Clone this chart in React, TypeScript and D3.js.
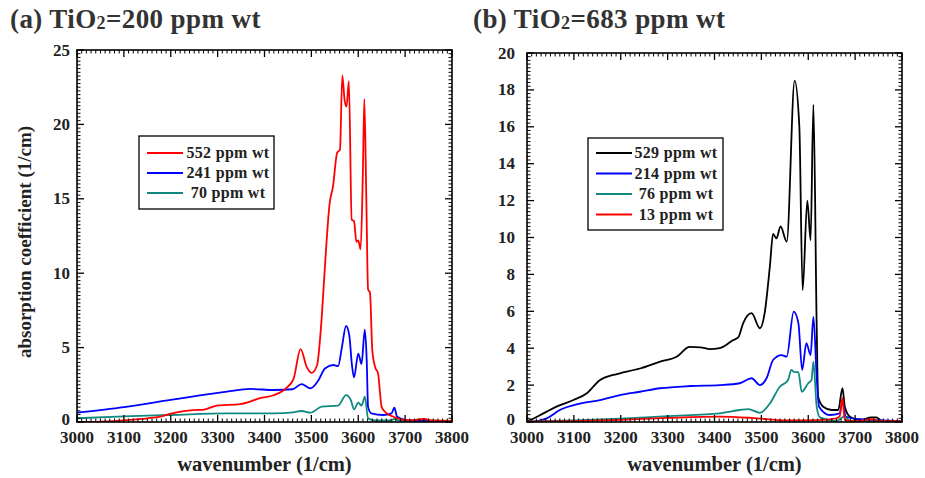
import React from "react";
import * as d3 from "d3";

// ---------- data ----------
const xTicks = [3000, 3100, 3200, 3300, 3400, 3500, 3600, 3700, 3800];
const yTicksA = [0, 5, 10, 15, 20, 25];
const yTicksB = [0, 2, 4, 6, 8, 10, 12, 14, 16, 18, 20];

const titleA = { pre: "(a) TiO", sub: "2", post: "=200 ppm wt" };
const titleB = { pre: "(b) TiO", sub: "2", post: "=683 ppm wt" };

const labelsA = ["552 ppm wt", "241 ppm wt", "70 ppm wt"];
const labelsB = ["529 ppm wt", "214 ppm wt", "76 ppm wt", "13 ppm wt"];

// panel (a)
const a552: [number, number][] = [
  [3000, 0.0], [3050, 0.03], [3106, 0.13], [3150, 0.25], [3177, 0.36], [3198, 0.54], [3225, 0.72],
  [3248, 0.8], [3269, 0.82], [3298, 1.1], [3348, 1.2], [3369, 1.37], [3390, 1.6], [3419, 1.8],
  [3447, 2.3], [3462, 2.9], [3477, 4.9], [3490, 3.7], [3500, 3.3], [3512, 3.8], [3522, 7.0],
  [3529, 10.5], [3539, 14.7], [3546, 15.8], [3555, 18.1], [3561, 18.3], [3566, 23.3], [3571, 21.6],
  [3575, 21.2], [3580, 22.9], [3586, 13.6], [3591, 13.5], [3596, 12.1], [3600, 12.2], [3605, 11.6],
  [3610, 17.0], [3613, 21.7], [3617, 15.4], [3621, 8.9], [3625, 8.7], [3630, 4.8], [3637, 3.6],
  [3642, 3.3], [3650, 1.0], [3660, 0.6], [3675, 0.35], [3690, 0.2], [3710, 0.12], [3740, 0.2],
  [3760, 0.1], [3800, 0.08],
];
const a241: [number, number][] = [
  [3000, 0.63], [3100, 1.0], [3200, 1.48], [3320, 2.04], [3370, 2.22], [3420, 2.15], [3460, 2.2],
  [3479, 2.55], [3498, 2.26], [3515, 2.8], [3529, 3.6], [3547, 3.83], [3557, 3.76], [3565, 5.0],
  [3574, 6.45], [3581, 5.8], [3586, 4.0], [3591, 3.0], [3600, 4.6], [3607, 3.9], [3614, 6.2],
  [3618, 4.2], [3621, 1.0], [3628, 0.58], [3653, 0.47], [3671, 0.58], [3677, 0.96], [3683, 0.35],
  [3703, 0.13], [3750, 0.06], [3800, 0.05],
];
const a70: [number, number][] = [
  [3000, 0.25], [3100, 0.38], [3200, 0.47], [3320, 0.58], [3420, 0.58], [3461, 0.65], [3479, 0.74],
  [3498, 0.63], [3522, 1.03], [3557, 1.1], [3574, 1.81], [3584, 1.48], [3591, 0.85], [3600, 1.3],
  [3607, 1.1], [3614, 1.7], [3621, 0.25], [3635, 0.1], [3670, 0.1], [3677, 0.2], [3690, 0.08],
  [3800, 0.05],
];

// panel (b)
const b529: [number, number][] = [
  [3000, 0.05], [3006, 0.1], [3035, 0.47], [3063, 0.83], [3099, 1.19], [3127, 1.55], [3156, 2.28],
  [3184, 2.55], [3198, 2.64], [3241, 2.9], [3284, 3.27], [3320, 3.55], [3347, 4.07], [3370, 4.05],
  [3390, 3.95], [3411, 4.0], [3440, 4.44], [3451, 4.6], [3461, 5.35], [3479, 5.9], [3497, 5.08],
  [3507, 5.9], [3518, 8.4], [3525, 10.2], [3532, 9.95], [3541, 10.6], [3554, 9.77], [3571, 18.5],
  [3581, 16.0], [3588, 7.15], [3598, 12.0], [3605, 9.86], [3611, 17.2], [3618, 5.17], [3621, 1.37],
  [3632, 0.83], [3650, 0.65], [3664, 0.65], [3673, 1.83], [3678, 0.83], [3689, 0.29], [3710, 0.1],
  [3735, 0.25], [3745, 0.25], [3759, 0.02], [3800, 0.05],
];
const b214: [number, number][] = [
  [3000, 0.0], [3020, 0.05], [3042, 0.2], [3070, 0.65], [3113, 1.0], [3156, 1.19], [3198, 1.46],
  [3241, 1.64], [3284, 1.83], [3350, 1.95], [3411, 2.0], [3454, 2.1], [3479, 2.37], [3497, 2.0],
  [3511, 2.37], [3525, 3.36], [3543, 3.63], [3554, 3.54], [3569, 5.98], [3579, 5.35], [3587, 2.82],
  [3596, 4.27], [3605, 3.63], [3611, 5.7], [3618, 2.46], [3623, 0.83], [3646, 0.38], [3667, 0.47],
  [3673, 1.1], [3680, 0.3], [3710, 0.15], [3800, 0.05],
];
const b76: [number, number][] = [
  [3000, 0.02], [3100, 0.08], [3200, 0.18], [3300, 0.32], [3411, 0.47], [3454, 0.65], [3472, 0.7],
  [3497, 0.5], [3518, 1.0], [3539, 1.9], [3557, 2.28], [3564, 2.82], [3571, 2.7], [3579, 2.7],
  [3586, 1.64], [3600, 2.1], [3607, 2.28], [3611, 3.27], [3618, 0.83], [3625, 0.25], [3660, 0.05],
  [3677, 0.3], [3690, 0.05], [3800, 0.03],
];
const b13: [number, number][] = [
  [3000, 0.02], [3100, 0.05], [3200, 0.12], [3300, 0.22], [3411, 0.29], [3480, 0.22], [3554, 0.08],
  [3620, 0.1], [3660, 0.2], [3667, 0.3], [3673, 1.3], [3678, 0.1], [3700, 0.05], [3740, 0.15],
  [3750, 0.05], [3800, 0.05],
];

const RED = "#ff0000";
const BLUE = "#0000ff";
const TEAL = "#108a80";
const BLACK = "#000000";

const FONT = "'Liberation Serif', 'Times New Roman', serif";

type Series = { data: [number, number][]; color: string; label: string };

type PanelProps = {
  id: string;
  left: number;
  top: number;
  width: number;
  height: number;
  yMax: number;
  yTicks: number[];
  yMinor: number;
  yLabelGap: number;
  series: Series[];
  legendOrder: Series[];
  legend: { x: number; y: number; w: number; h: number; rowH: number; firstRow: number; textCx: number };
  title: { pre: string; sub: string; post: string };
  titleX: number;
  showYTitle: boolean;
};

function Panel(p: PanelProps) {
  const x = d3.scaleLinear().domain([3000, 3800]).range([p.left, p.left + p.width]);
  const y = d3.scaleLinear().domain([0, p.yMax]).range([p.top + p.height, p.top]);
  const line = d3
    .line<[number, number]>()
    .x((d) => x(d[0]))
    .y((d) => y(d[1]))
    .curve(d3.curveMonotoneX);

  const xMinor = d3.range(3000, 3801, 10);
  const nY = Math.round(p.yMax / p.yMinor);
  const yMinor = d3.range(0, nY + 1).map((i) => i * p.yMinor);
  const bottom = p.top + p.height;
  const right = p.left + p.width;

  return (
    <g>
      <defs>
        <clipPath id={p.id}>
          <rect x={p.left} y={p.top} width={p.width} height={p.height} />
        </clipPath>
      </defs>
      <text x={p.titleX} y={28} fontFamily={FONT} fontWeight="bold" fontSize={27} fill="#333" letterSpacing={0.4}>
        {p.title.pre}
        <tspan fontSize={18} dy={1}>{p.title.sub}</tspan>
        <tspan dy={-1}>{p.title.post}</tspan>
      </text>

      <g clipPath={`url(#${p.id})`}>
        {p.series.map((s, i) => (
          <path key={i} d={line(s.data) || ""} fill="none" stroke={s.color} strokeWidth={1.8} strokeLinejoin="round" />
        ))}
      </g>

      {xMinor.map((v) => {
        const major = v % 100 === 0;
        const len = major ? 7 : 3.5;
        return (
          <g key={"x" + v} stroke="#000" strokeWidth={major ? 1.3 : 1}>
            <line x1={x(v)} x2={x(v)} y1={bottom} y2={bottom - len} />
            <line x1={x(v)} x2={x(v)} y1={p.top} y2={p.top + len} />
          </g>
        );
      })}
      {yMinor.map((v, i) => {
        const major = p.yTicks.some((t) => Math.abs(t - v) < 1e-6);
        const len = major ? 7 : 3.5;
        return (
          <g key={"y" + i} stroke="#000" strokeWidth={major ? 1.3 : 1}>
            <line x1={p.left} x2={p.left + len} y1={y(v)} y2={y(v)} />
            <line x1={right} x2={right - len} y1={y(v)} y2={y(v)} />
          </g>
        );
      })}
      <rect x={p.left} y={p.top} width={p.width} height={p.height} fill="none" stroke="#000" strokeWidth={1.6} />

      {xTicks.map((v) => (
        <text key={"xl" + v} x={x(v)} y={bottom + 21} textAnchor="middle" fontFamily={FONT} fontWeight="bold" fontSize={17} fill="#222">
          {v}
        </text>
      ))}
      {p.yTicks.map((v) => (
        <text key={"yl" + v} x={p.left - p.yLabelGap} y={y(v) + (v === 0 ? 3 : 5.5)} textAnchor="end" fontFamily={FONT} fontWeight="bold" fontSize={17} fill="#222">
          {v}
        </text>
      ))}

      <text x={p.left + p.width / 2} y={471} textAnchor="middle" fontFamily={FONT} fontWeight="bold" fontSize={20.5} fill="#222">
        wavenumber (1/cm)
      </text>
      {p.showYTitle && (
        <text transform={`translate(31,${p.top + p.height / 2 + 6}) rotate(-90)`} textAnchor="middle" fontFamily={FONT} fontWeight="bold" fontSize={19} fill="#222">
          absorption coefficient (1/cm)
        </text>
      )}

      <rect x={p.legend.x} y={p.legend.y} width={p.legend.w} height={p.legend.h} fill="#fff" stroke="#000" strokeWidth={1.3} />
      {p.legendOrder.map((s, i) => {
        const ly = p.legend.y + p.legend.firstRow + i * p.legend.rowH;
        return (
          <g key={"lg" + i}>
            <line x1={p.legend.x + 8} x2={p.legend.x + 44} y1={ly} y2={ly} stroke={s.color} strokeWidth={1.8} />
            <text x={p.legend.textCx} y={ly + 5} textAnchor="middle" fontFamily={FONT} fontWeight="bold" fontSize={16} fill="#222" letterSpacing={0.3}>
              {s.label}
            </text>
          </g>
        );
      })}
    </g>
  );
}

export default function App() {
  const sA552 = { data: a552, color: RED, label: labelsA[0] };
  const sA241 = { data: a241, color: BLUE, label: labelsA[1] };
  const sA70 = { data: a70, color: TEAL, label: labelsA[2] };
  const sB529 = { data: b529, color: BLACK, label: labelsB[0] };
  const sB214 = { data: b214, color: BLUE, label: labelsB[1] };
  const sB76 = { data: b76, color: TEAL, label: labelsB[2] };
  const sB13 = { data: b13, color: RED, label: labelsB[3] };

  return (
    <svg width={925} height={478} style={{ position: "absolute", left: 0, top: 0, background: "#fff" }}>
      <Panel
        id="clipA"
        left={77}
        top={50}
        width={375}
        height={372}
        yMax={25}
        yTicks={yTicksA}
        yMinor={0.25}
        yLabelGap={7}
        series={[sA70, sA241, sA552]}
        legendOrder={[sA552, sA241, sA70]}
        legend={{ x: 139, y: 136, w: 135, h: 73, rowH: 20, firstRow: 17, textCx: 228 }}
        title={titleA}
        titleX={10}
        showYTitle={true}
      />
      <Panel
        id="clipB"
        left={527}
        top={53}
        width={375}
        height={369}
        yMax={20}
        yTicks={yTicksB}
        yMinor={0.2}
        yLabelGap={12}
        series={[sB529, sB214, sB76, sB13]}
        legendOrder={[sB529, sB214, sB76, sB13]}
        legend={{ x: 588, y: 138, w: 135, h: 92, rowH: 20.5, firstRow: 15, textCx: 676 }}
        title={titleB}
        titleX={473}
        showYTitle={false}
      />
    </svg>
  );
}
